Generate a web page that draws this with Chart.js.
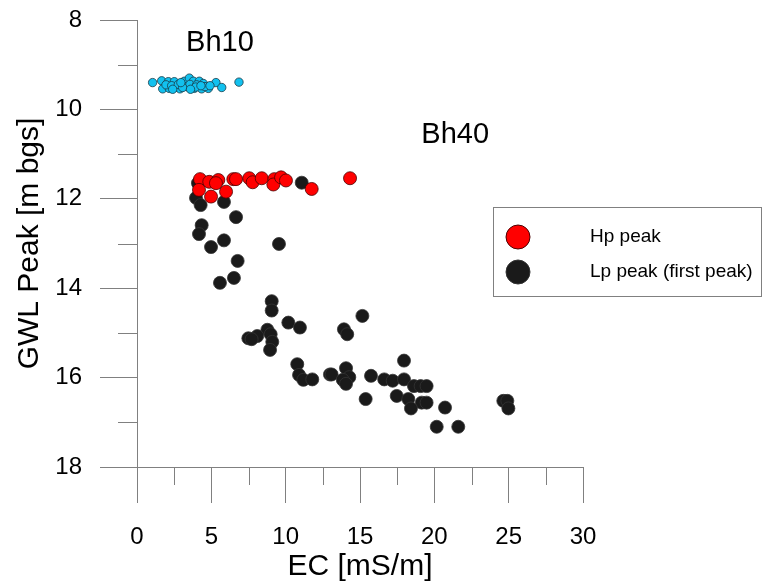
<!DOCTYPE html>
<html>
<head>
<meta charset="utf-8">
<script src="https://cdn.jsdelivr.net/npm/chart.js@4/dist/chart.umd.min.js"></script>
<style>
  html, body { margin: 0; padding: 0; background: #fff; }
  #wrap { width: 762px; height: 587px; }
</style>
</head>
<body>
<div id="wrap"><canvas id="gwlChart" width="762" height="587"></canvas></div>
<script>
// Bh10 (cyan)
const ecBh10 = [1.05, 1.66, 2.11, 2.51, 3.18, 3.52, 3.79, 4.19, 4.46, 5.31, 5.70, 6.86,
    1.73, 2.17, 2.56, 2.89, 3.34, 3.85, 4.35, 4.80, 1.95, 2.33, 2.78, 3.56, 4.01, 4.57,
    4.91, 3.07, 2.95, 3.95, 4.30, 2.40, 3.60];
const gwlBh10 = [9.40, 9.36, 9.38, 9.38, 9.37, 9.30, 9.37, 9.37, 9.42, 9.40, 9.51, 9.39,
    9.54, 9.53, 9.51, 9.54, 9.49, 9.53, 9.54, 9.53, 9.45, 9.47, 9.44, 9.44, 9.45, 9.49,
    9.47, 9.51, 9.40, 9.50, 9.47, 9.55, 9.55];

// Bh40 Hp peak (red)
const ecHp = [4.24, 4.86, 5.47, 5.31, 4.17, 4.98, 5.99, 6.48, 6.66, 7.55, 7.78, 8.39,
    9.24, 9.17, 9.69, 10.02, 11.75, 14.33];
const gwlHp = [11.56, 11.62, 11.58, 11.65, 11.80, 11.95, 11.84, 11.56, 11.56, 11.54, 11.63, 11.54,
    11.56, 11.68, 11.52, 11.59, 11.78, 11.54];

// Bh40 Lp peak (black)
const ecLp = [4.10, 3.97, 4.28, 5.85, 6.66, 4.35, 4.17, 5.85, 4.98, 9.55, 6.77, 11.08,
    6.52, 5.58, 9.06, 9.06, 10.18, 10.96, 8.77, 8.99, 8.09, 7.49, 7.71, 9.10, 8.95,
    10.78, 10.90, 11.19, 11.79, 12.98, 15.16, 13.92, 14.14, 17.96, 14.06, 13.09, 14.28,
    13.84, 14.06, 15.74, 16.63, 17.20, 17.96, 18.63, 19.08, 19.48, 15.38, 17.47, 18.25,
    19.15, 19.48, 18.43, 20.72, 20.16, 21.61, 24.64, 24.91, 24.98];
const gwlLp = [11.65, 11.98, 12.14, 12.07, 12.41, 12.59, 12.79, 12.93, 13.08, 13.01, 13.39, 11.64,
    13.77, 13.88, 14.29, 14.50, 14.77, 14.88, 14.93, 15.03, 15.07, 15.12, 15.14, 15.20, 15.38,
    15.70, 15.94, 16.05, 16.04, 15.93, 14.62, 14.92, 15.03, 15.62, 15.79, 15.93, 15.99,
    16.05, 16.14, 15.96, 16.04, 16.07, 16.04, 16.19, 16.19, 16.19, 16.48, 16.41, 16.48,
    16.56, 16.56, 16.69, 16.67, 17.10, 17.10, 16.52, 16.52, 16.69];

const xTicks = [0, 5, 10, 15, 20, 25, 30];
const xMinor = [2.5, 7.5, 12.5, 17.5, 22.5, 27.5];
const yTicks = [8, 10, 12, 14, 16, 18];
const yMinor = [9, 11, 13, 15, 17];

const legendLabels = ['Hp peak', 'Lp peak (first peak)'];

const toPoints = (xs, ys) => xs.map((x, i) => ({ x: x, y: ys[i] }));

const FONT = '"Liberation Sans", Arial, sans-serif';
const AXIS = '#808080';

// minor ticks, borehole labels and the boxed legend
const extras = {
    id: 'extras',
    afterDraw(chart) {
        const ctx = chart.ctx;
        const xs = chart.scales.x, ys = chart.scales.y;
        const area = chart.chartArea;
        ctx.save();
        ctx.strokeStyle = AXIS;
        ctx.lineWidth = 1;
        ctx.beginPath();
        xMinor.forEach(v => {
            const px = Math.round(xs.getPixelForValue(v)) + 0.5;
            ctx.moveTo(px, area.bottom);
            ctx.lineTo(px, area.bottom + 18);
        });
        yMinor.forEach(v => {
            const py = Math.round(ys.getPixelForValue(v)) + 0.5;
            ctx.moveTo(area.left, py);
            ctx.lineTo(area.left - 19, py);
        });
        ctx.stroke();

        ctx.fillStyle = '#000';
        ctx.font = '29px ' + FONT;
        ctx.textAlign = 'center';
        ctx.textBaseline = 'middle';
        ctx.fillText('Bh10', xs.getPixelForValue(5.58), ys.getPixelForValue(8.52));
        ctx.fillText('Bh40', xs.getPixelForValue(21.4), ys.getPixelForValue(10.57));

        // legend box
        ctx.strokeStyle = AXIS;
        ctx.strokeRect(493.5, 207.5, 268, 89);
        const rows = [237, 272];
        [0, 1].forEach(i => {
            const ds = chart.data.datasets[i];
            ctx.beginPath();
            ctx.arc(518, rows[i], 12, 0, Math.PI * 2);
            ctx.fillStyle = ds.backgroundColor;
            ctx.fill();
            ctx.strokeStyle = ds.borderColor;
            ctx.stroke();
            ctx.fillStyle = '#000';
            ctx.font = '19px ' + FONT;
            ctx.textAlign = 'left';
            ctx.fillText(legendLabels[i], 590, rows[i]);
        });
        ctx.restore();
    }
};

new Chart(document.getElementById('gwlChart'), {
    type: 'scatter',
    data: {
        datasets: [
            {
                label: legendLabels[0],
                data: toPoints(ecHp, gwlHp),
                backgroundColor: '#ff0000',
                borderColor: '#4a0000',
                borderWidth: 0.8,
                pointRadius: 6.5,
                order: 1
            },
            {
                label: legendLabels[1],
                data: toPoints(ecLp, gwlLp),
                backgroundColor: '#1a1a1a',
                borderColor: '#333333',
                borderWidth: 0.8,
                pointRadius: 6.5,
                order: 2
            },
            {
                label: 'Bh10',
                data: toPoints(ecBh10, gwlBh10),
                backgroundColor: '#12c1ef',
                borderColor: '#1b3b48',
                borderWidth: 0.8,
                pointRadius: 4.2,
                order: 3
            }
        ]
    },
    options: {
        responsive: false,
        animation: false,
        layout: { padding: { left: 0, right: 179, top: 20, bottom: 0 } },
        plugins: {
            legend: { display: false },
            tooltip: { enabled: false }
        },
        scales: {
            x: {
                type: 'linear',
                position: 'bottom',
                min: 0,
                max: 30,
                afterBuildTicks: s => { s.ticks = xTicks.map(v => ({ value: v })); },
                afterFit: s => { s.height = 120; s.paddingLeft = 0; s.paddingRight = 0; },
                ticks: { color: '#000', font: { family: FONT, size: 24 }, padding: 20, maxRotation: 0 },
                grid: { drawOnChartArea: false, drawTicks: true, tickLength: 36, color: AXIS, lineWidth: 1 },
                border: { display: true, color: AXIS, width: 1 },
                title: {
                    display: true,
                    text: 'EC [mS/m]',
                    color: '#000',
                    font: { family: FONT, size: 30 },
                    padding: { top: 0, bottom: 2 }
                }
            },
            y: {
                type: 'linear',
                position: 'left',
                reverse: true,
                min: 8,
                max: 18,
                afterBuildTicks: s => { s.ticks = yTicks.map(v => ({ value: v })); },
                afterFit: s => { s.width = 137; s.paddingTop = 0; s.paddingBottom = 0; },
                ticks: { color: '#000', font: { family: FONT, size: 24 }, padding: 18 },
                grid: { drawOnChartArea: false, drawTicks: true, tickLength: 37, color: AXIS, lineWidth: 1 },
                border: { display: true, color: AXIS, width: 1 },
                title: {
                    display: true,
                    text: 'GWL Peak [m bgs]',
                    color: '#000',
                    font: { family: FONT, size: 30 },
                    padding: { top: 12, bottom: 0 }
                }
            }
        }
    },
    plugins: [extras]
});
</script>
</body>
</html>
